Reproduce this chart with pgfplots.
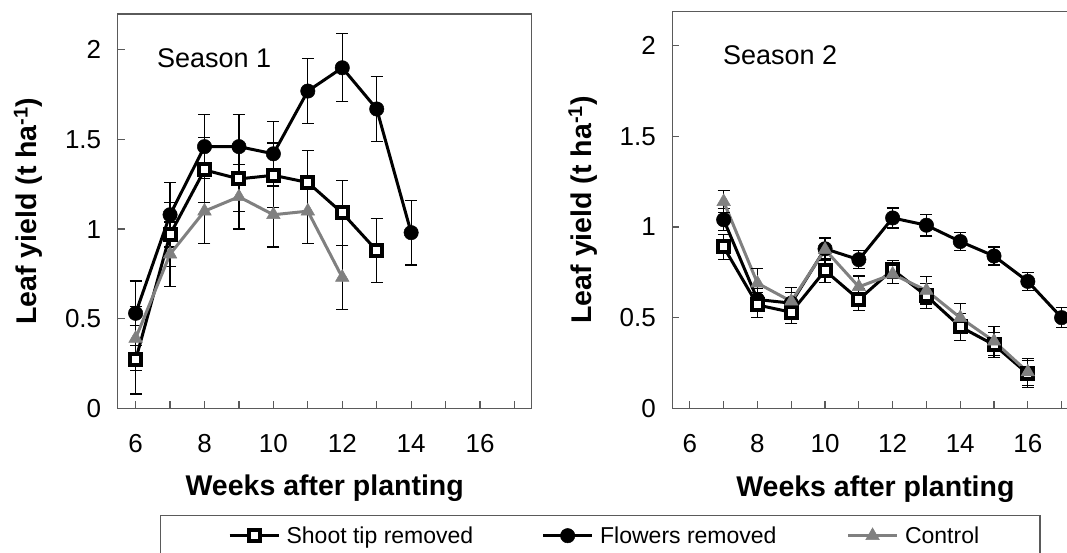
\documentclass[border=0pt]{standalone}
\usepackage{fontspec}
\setmainfont{Liberation Sans}
\usepackage{pgfplots}
\pgfplotsset{compat=1.18}
\definecolor{axgray}{RGB}{90,90,90}
\definecolor{ctrl}{RGB}{128,128,128}
\pgfplotsset{
  panel/.style={
    scale only axis, anchor=south west,
    xmin=5.48, xmax=17.5, ymin=0,
    xtick={6,8,...,16}, minor xtick={7,9,...,17},
    ytick={0,0.5,1,1.5,2},
    tick align=inside, xtick pos=bottom, ytick pos=left,
    major tick length=7pt, minor tick length=7pt,
    axis line style={axgray, line width=1.2pt},
    every tick/.style={axgray, line width=1.2pt},
    every minor tick/.style={axgray, line width=1.2pt},
    tick label style={font=\fontsize{26}{30}\selectfont},
    /pgf/number format/assume math mode=true,
    xticklabel style={yshift=-23pt},
    yticklabel style={xshift=-13pt},
    label style={font=\bfseries\fontsize{28.5}{33}\selectfont},
    clip=false,
  },
  errs/.style={error bars/y dir=both, error bars/y explicit,
    error bars/error mark options={black, line width=1.2pt, mark size=6pt, rotate=90},
    error bars/error bar style={black, line width=1.2pt}},
  shoot/.style={black, line width=3pt, mark=square*, mark options={fill=white, draw=black, line width=4pt, mark size=5.5pt, solid}},
  flow/.style={black, line width=3pt, mark=*, mark options={fill=black, draw=black, line width=0.5pt, mark size=7.2pt, solid}},
  ctl/.style={ctrl, line width=3pt, mark=triangle*, mark options={fill=ctrl, draw=ctrl, line width=0.5pt, mark size=7.8pt, solid}},
  legA/.style={legend image code/.code={\path[draw=none,fill=none] (-69pt,0pt) -- (0pt,0pt); \draw[mark repeat=2,mark phase=2,##1] plot coordinates {(0pt,0pt)(24.5pt,0pt)(49pt,0pt)};}},
  legB/.style={legend image code/.code={\draw[mark repeat=2,mark phase=2,##1] plot coordinates {(0pt,0pt)(24.5pt,0pt)(49pt,0pt)};}},
}
\begin{document}
\begin{tikzpicture}
% ---------------- Season 1 ----------------
\begin{axis}[panel, at={(117.7pt,143.7pt)}, width=414pt, height=394.3pt, ymax=2.2,
  xlabel={Weeks after planting}, ylabel={Leaf yield (t ha\textsuperscript{-1})},
  xlabel style={at={(axis description cs:0.5,-0.2224)}, anchor=base},
  ylabel style={at={(axis description cs:-0.2162,0.5)}, anchor=center},
  legend columns=3,
  legend style={at={(axis description cs:0.1022,-0.2706)}, anchor=north west,
    draw=axgray, line width=1.2pt, inner xsep=0pt, inner ysep=11pt,
    font=\fontsize{23}{27}\selectfont, nodes={inner sep=0pt}, column sep=0pt},
]
\addlegendimage{shoot, legA}
\addlegendentry{\hspace*{6.5pt}Shoot tip removed\hspace*{68.4pt}}
\addlegendimage{flow, legB}
\addlegendentry{\hspace*{6.5pt}Flowers removed\hspace*{70pt}}
\addlegendimage{ctl, legB}
\addlegendentry{\hspace*{6.5pt}Control\hspace*{60.7pt}}
% Flowers removed
\addplot[flow, errs, forget plot] coordinates {
 (6,0.53) +- (0,0.18) (7,1.08) +- (0,0.18) (8,1.46) +- (0,0.18) (9,1.46) +- (0,0.18)
 (10,1.42) +- (0,0.18) (11,1.77) +- (0,0.18) (12,1.90) +- (0,0.19) (13,1.67) +- (0,0.18)
 (14,0.98) +- (0,0.18)};
% Shoot tip removed
\addplot[shoot, errs, forget plot] coordinates {
 (6,0.27) +- (0,0.19) (7,0.97) +- (0,0.18) (8,1.33) +- (0,0.18) (9,1.28) +- (0,0.18)
 (10,1.30) +- (0,0.18) (11,1.26) +- (0,0.18) (12,1.09) +- (0,0.18) (13,0.88) +- (0,0.18)};
% Control
\addplot[ctl, errs, forget plot] coordinates {
 (6,0.39) +- (0,0.18) (7,0.86) +- (0,0.18) (8,1.10) +- (0,0.18) (9,1.18) +- (0,0.18)
 (10,1.08) +- (0,0.18) (11,1.10) +- (0,0.18) (12,0.73) +- (0,0.18)};
\node[anchor=base west, inner sep=0pt, font=\fontsize{27}{32}\selectfont] at (axis cs:6.62,1.904) {Season 1};
\end{axis}
% ---------------- Season 2 ----------------
\begin{axis}[panel, at={(672.3pt,143.7pt)}, width=406.2pt, height=397pt, ymax=2.19,
  xlabel={Weeks after planting}, ylabel={Leaf yield (t ha\textsuperscript{-1})},
  xlabel style={at={(axis description cs:0.5,-0.2209)}, anchor=base},
  ylabel style={at={(axis description cs:-0.2203,0.5)}, anchor=center},
]
\addplot[flow, errs] coordinates {
 (7,1.04) +- (0,0.06) (8,0.60) +- (0,0.06) (9,0.58) +- (0,0.06) (10,0.88) +- (0,0.06)
 (11,0.82) +- (0,0.05) (12,1.05) +- (0,0.055) (13,1.01) +- (0,0.06) (14,0.92) +- (0,0.05)
 (15,0.84) +- (0,0.05) (16,0.70) +- (0,0.05) (17,0.50) +- (0,0.055)};
\addplot[shoot, errs] coordinates {
 (7,0.89) +- (0,0.07) (8,0.57) +- (0,0.07) (9,0.53) +- (0,0.06) (10,0.76) +- (0,0.065)
 (11,0.60) +- (0,0.06) (12,0.765) +- (0,0.05) (13,0.62) +- (0,0.07) (14,0.45) +- (0,0.075)
 (15,0.35) +- (0,0.07) (16,0.19) +- (0,0.075)};
\addplot[ctl, errs] coordinates {
 (7,1.14) +- (0,0.06) (8,0.69) +- (0,0.08) (9,0.59) +- (0,0.075) (10,0.875) +- (0,0.06)
 (11,0.67) +- (0,0.06) (12,0.74) +- (0,0.05) (13,0.65) +- (0,0.075) (14,0.50) +- (0,0.08)
 (15,0.37) +- (0,0.08) (16,0.20) +- (0,0.075)};
\node[anchor=base west, inner sep=0pt, font=\fontsize{27}{32}\selectfont] at (axis cs:6.98,1.894) {Season 2};
\end{axis}
\pgfresetboundingbox
\path[use as bounding box] (0pt,0pt) rectangle (1067pt,552pt);
\end{tikzpicture}
\end{document}
